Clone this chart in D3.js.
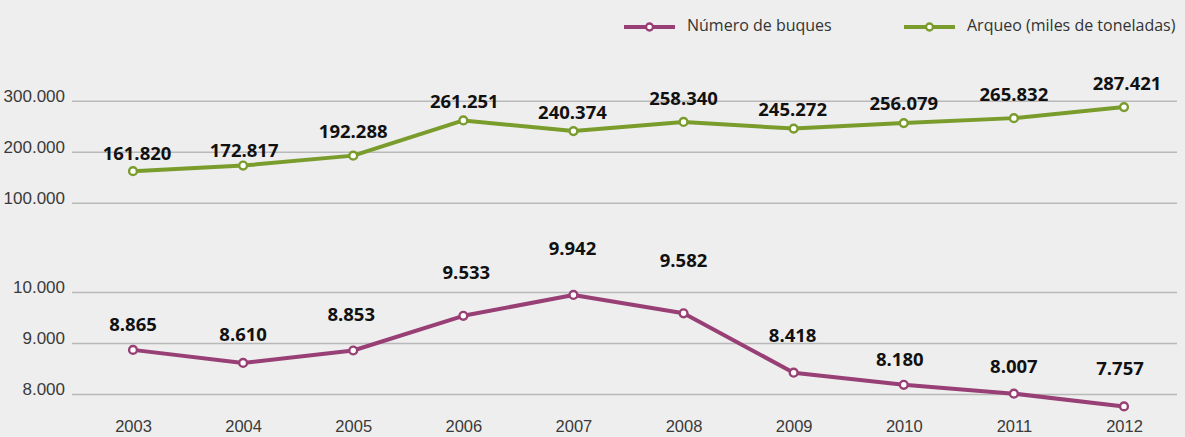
<!DOCTYPE html>
<html lang="es">
<head>
<meta charset="utf-8">
<script src="https://cdn.jsdelivr.net/npm/d3@7"></script>
<style>
  html, body { margin: 0; padding: 0; background: #eeeeee; }
  svg { display: block; font-family: "Open Sans", "Noto Sans", sans-serif; }
  .grid .tick line { stroke: #b9b9b9; stroke-width: 1.5; }
  .grid .tick text { fill: #3a3a3a; font-size: 17px; }
  .years .tick text { fill: #3a3a3a; font-size: 16.5px; }
  .value { font-weight: 700; font-size: 18.5px; fill: #111; text-anchor: middle; }
  .legend text { font-size: 16px; fill: #333; }
</style>
</head>
<body>
<svg id="chart" width="1185" height="437"></svg>
<script>
// Years on the horizontal axis
const years = [2003, 2004, 2005, 2006, 2007, 2008, 2009, 2010, 2011, 2012];
// Gross tonnage, thousands of tonnes
const arqueo = [161820, 172817, 192288, 261251, 240374, 258340, 245272, 256079, 265832, 287421];
// Number of vessels
const buques = [8865, 8610, 8853, 9533, 9942, 9582, 8418, 8180, 8007, 7757];
// Gridline values for each panel
const arqueoTicks = [100000, 200000, 300000];
const buquesTicks = [8000, 9000, 10000];
// Series names for the legend
const seriesNames = ["Número de buques", "Arqueo (miles de toneladas)"];

// Label nudges (px) relative to each point, hand-tuned to avoid overlaps
const arqueoLabelDy = [-11, -9, -18, -12, -12, -17, -13, -13, -17, -17];
const arqueoLabelDx = [4, 1, 0, 1, -1, 0, -1, 0, 0, 3];
const buquesLabelDy = [-19, -22, -29, -37, -40, -46, -31, -19, -21, -31];
const buquesLabelDx = [0, 0, -2, 3, -1, 0, -1, -4, 0, -4];

const colors = { buques: "#983f75", arqueo: "#7a9c2c" };

const es = d3.formatLocale({ decimal: ",", thousands: ".", grouping: [3], currency: ["", " €"] });
const fmt = es.format(",d");

const svg = d3.select("#chart");
const gridLeft = 72, gridRight = 1177;

const x = d3.scalePoint().domain(years).range([133, 1124]);
const yTop = d3.scaleLinear().domain([100000, 300000]).range([202.7, 100.7]);
const yBot = d3.scaleLinear().domain([8000, 10000]).range([394, 292]);

function drawGrid(scale, ticks) {
  const g = svg.append("g")
    .attr("class", "grid")
    .attr("transform", `translate(${gridRight},0)`)
    .call(d3.axisLeft(scale).tickValues(ticks).tickFormat(fmt)
      .tickSize(gridRight - gridLeft).tickPadding(7));
  g.select(".domain").remove();
  g.selectAll(".tick text").attr("dy", "0.02em");
}
drawGrid(yTop, arqueoTicks);
drawGrid(yBot, buquesTicks);

// Year labels
const xa = svg.append("g")
  .attr("class", "years")
  .attr("transform", "translate(0,420)")
  .call(d3.axisBottom(x).tickSize(0).tickPadding(0));
xa.select(".domain").remove();
xa.selectAll(".tick text").attr("y", 12).attr("dy", 0);

function drawSeries(values, scale, color, dxs, dys) {
  const pts = years.map((yr, i) => ({ yr, v: values[i], i }));
  const line = d3.line().x(d => x(d.yr)).y(d => scale(d.v));
  svg.append("path")
    .datum(pts)
    .attr("d", line)
    .attr("fill", "none")
    .attr("stroke", color)
    .attr("stroke-width", 4)
    .attr("stroke-linejoin", "round");
  svg.append("g").selectAll("circle")
    .data(pts).join("circle")
    .attr("cx", d => x(d.yr))
    .attr("cy", d => scale(d.v))
    .attr("r", 3.9)
    .attr("fill", "#fff")
    .attr("stroke", color)
    .attr("stroke-width", 2.4);
  svg.append("g").selectAll("text")
    .data(pts).join("text")
    .attr("class", "value")
    .attr("x", d => x(d.yr) + dxs[d.i])
    .attr("y", d => scale(d.v) + dys[d.i])
    .text(d => fmt(d.v));
}
drawSeries(arqueo, yTop, colors.arqueo, arqueoLabelDx, arqueoLabelDy);
drawSeries(buques, yBot, colors.buques, buquesLabelDx, buquesLabelDy);

// Legend
const legendItems = [
  { name: seriesNames[0], color: colors.buques, x: 624 },
  { name: seriesNames[1], color: colors.arqueo, x: 904 }
];
const lg = svg.append("g").attr("class", "legend");
legendItems.forEach(item => {
  const g = lg.append("g").attr("transform", `translate(${item.x},27)`);
  g.append("line").attr("x1", 0).attr("x2", 51).attr("y1", 0).attr("y2", 0)
    .attr("stroke", item.color).attr("stroke-width", 3.8);
  g.append("circle").attr("cx", 25.5).attr("cy", 0).attr("r", 3.5)
    .attr("fill", "#fff").attr("stroke", item.color).attr("stroke-width", 2.3);
  g.append("text").attr("x", 63).attr("y", 4).text(item.name);
});
</script>
</body>
</html>
